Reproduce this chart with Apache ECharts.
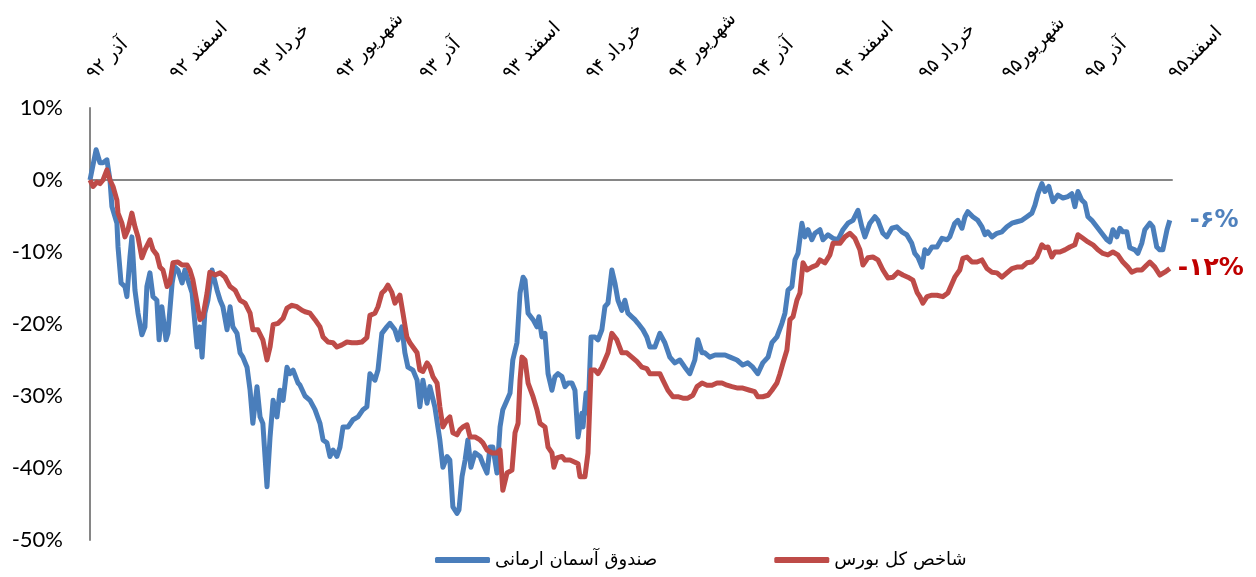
<!DOCTYPE html>
<html>
<head>
<meta charset="utf-8">
<script src="https://cdn.jsdelivr.net/npm/echarts@6/dist/echarts.min.js"></script>
<style>
html,body{margin:0;padding:0;background:#fff;}
#chart{width:1256px;height:577px;}
</style>
</head>
<body>
<div id="chart"></div>
<script>
// Tick labels (Persian months, every 3 months)
const monthLabels = ['آذر ۹۲','اسفند ۹۲','خرداد ۹۳','شهریور ۹۳','آذر ۹۳','اسفند ۹۳','خرداد ۹۴','شهریور ۹۴','آذر ۹۴','اسفند ۹۴','خرداد ۹۵','شهریور۹۵','آذر ۹۵','اسفند۹۵'];
const seriesNames = ['صندوق آسمان ارمانی','شاخص کل بورس'];
const endLabels = ['-۶%','-۱۲%'];

// Fund (blue): time in months since آذر ۹۲, value in %
const fundT = [0,0.11,0.22,0.36,0.47,0.61,0.72,0.79,0.97,1.01,1.12,1.26,1.33,1.44,1.51,1.62,1.73,1.87,1.98,2.05,2.16,2.27,2.41,2.49,2.59,2.74,2.81,2.96,3.06,3.17,3.32,3.42,3.53,3.68,3.86,3.96,4.04,4.14,4.25,4.40,4.58,4.69,4.79,4.94,5.05,5.15,5.30,5.41,5.51,5.66,5.77,5.87,6.02,6.13,6.23,6.38,6.49,6.60,6.74,6.85,6.96,7.10,7.21,7.32,7.50,7.57,7.75,7.93,8.11,8.29,8.40,8.54,8.65,8.76,8.90,9.01,9.12,9.30,9.48,9.66,9.84,9.98,10.09,10.27,10.38,10.52,10.70,10.81,10.99,11.10,11.24,11.35,11.46,11.64,11.79,11.89,12.00,12.15,12.25,12.43,12.61,12.72,12.87,12.97,13.08,13.23,13.30,13.41,13.52,13.62,13.73,13.88,14.06,14.16,14.31,14.42,14.52,14.67,14.78,14.88,15.03,15.14,15.24,15.39,15.50,15.61,15.68,15.79,15.97,16.11,16.18,16.29,16.40,16.51,16.65,16.76,16.87,17.01,17.12,17.23,17.37,17.48,17.59,17.73,17.77,17.88,17.95,18.06,18.20,18.31,18.45,18.56,18.67,18.81,18.92,19.03,19.17,19.28,19.39,19.53,19.64,19.75,19.93,20.07,20.18,20.36,20.54,20.72,20.90,21.08,21.26,21.44,21.62,21.80,21.91,22.06,22.16,22.34,22.53,22.71,22.89,23.07,23.32,23.53,23.71,23.89,24.07,24.25,24.44,24.58,24.76,24.94,25.05,25.16,25.30,25.41,25.52,25.66,25.77,25.88,26.02,26.13,26.31,26.42,26.60,26.78,26.96,27.14,27.32,27.50,27.68,27.82,27.93,28.11,28.29,28.40,28.58,28.72,28.90,29.08,29.26,29.44,29.62,29.73,29.84,29.99,30.09,30.20,30.35,30.53,30.71,30.89,30.99,31.17,31.28,31.43,31.54,31.64,31.82,32.00,32.15,32.26,32.36,32.51,32.69,32.87,33.05,33.23,33.41,33.59,33.77,33.95,34.06,34.17,34.31,34.42,34.56,34.71,34.89,35.07,35.25,35.39,35.50,35.61,35.75,35.86,35.97,36.11,36.29,36.47,36.65,36.76,36.87,37.01,37.12,37.23,37.37,37.48,37.66,37.77,37.91,38.02,38.20,38.31,38.45,38.56,38.67,38.82,38.92];
const fundV = [0,2.1,4.2,2.4,2.4,2.8,0,-3.7,-6,-9.3,-14.3,-14.8,-16.2,-10.7,-7.9,-15.3,-18.5,-21.5,-20.4,-14.8,-12.9,-16.2,-16.7,-22.2,-17.6,-22.2,-21.3,-14.3,-12.1,-12.5,-14.3,-12.5,-13.9,-15.7,-23.2,-20.4,-24.6,-18.5,-16.7,-12.5,-15.3,-16.7,-17.6,-20.8,-17.6,-20.4,-21.3,-24,-24.6,-26,-29.2,-33.8,-28.7,-32.9,-33.8,-42.6,-35.7,-30.6,-32.9,-29.2,-30.6,-26,-26.9,-26.4,-28.2,-28.5,-30,-30.6,-31.9,-33.8,-36.1,-36.5,-38.4,-37.5,-38.4,-37.1,-34.3,-34.3,-33.3,-32.9,-31.9,-31.5,-26.9,-27.8,-26.4,-21.3,-20.4,-19.9,-20.8,-22.2,-20.4,-24,-26,-26.4,-27.8,-31.5,-27.8,-31,-28.7,-31.5,-36.1,-39.9,-38.4,-38.9,-45.4,-46.3,-45.8,-41.2,-38.9,-36.1,-39.9,-37.9,-38.4,-39.4,-40.7,-37.1,-37.1,-40.7,-34.3,-31.9,-30.6,-29.6,-25,-22.6,-15.7,-13.5,-13.9,-18.5,-19.4,-20.4,-19,-21.8,-21.3,-26.9,-29.2,-27.3,-26.9,-27.3,-28.7,-28.2,-28.2,-29.2,-35.7,-32.4,-34.3,-29.6,-32.4,-21.8,-21.8,-22.2,-20.8,-17.6,-17.1,-12.5,-14.3,-16.7,-18.1,-16.7,-18.5,-19,-19.4,-19.9,-20.8,-21.8,-23.2,-23.2,-21.3,-22.6,-24.6,-25.4,-25,-26,-26.9,-25,-22.2,-24,-24,-24.6,-24.3,-24.3,-24.3,-24.6,-25,-25.7,-25.4,-26,-26.9,-25.4,-24.6,-22.6,-21.8,-19.9,-18.5,-15.3,-14.8,-11.1,-10.2,-6,-7.9,-6.9,-8.3,-7.4,-6.9,-8.3,-7.6,-8.1,-8.3,-6.9,-6,-5.6,-4.2,-6.5,-7.9,-6,-5.1,-5.6,-7.4,-7.9,-6.7,-6.5,-7.2,-7.6,-8.8,-10.2,-10.7,-12.1,-9.7,-10.2,-9.3,-9.3,-8.1,-8.3,-7.9,-6,-5.6,-6.7,-5.1,-4.4,-5.1,-5.6,-6.5,-7.6,-7.2,-7.9,-7.4,-7.2,-6.5,-6,-5.8,-5.6,-5.1,-4.6,-3.5,-1.9,-0.5,-1.6,-0.9,-3,-2.1,-2.5,-2.3,-1.9,-3.7,-1.6,-2.8,-3.2,-5.1,-5.6,-6.5,-7.4,-8.3,-8.6,-6.9,-7.9,-6.7,-7.2,-7.2,-9.4,-9.7,-10.2,-8.8,-6.9,-6,-6.5,-9.3,-9.7,-9.7,-6.9,-5.6];

// Index (red)
const indexT = [0,0.11,0.25,0.36,0.47,0.61,0.72,0.83,0.97,1.01,1.15,1.26,1.37,1.51,1.62,1.73,1.87,1.98,2.16,2.27,2.41,2.52,2.63,2.78,2.88,2.99,3.17,3.32,3.50,3.60,3.71,3.86,3.96,4.07,4.22,4.32,4.51,4.69,4.87,5.05,5.23,5.41,5.59,5.77,5.87,6.05,6.23,6.38,6.49,6.60,6.78,6.96,7.10,7.28,7.46,7.64,7.75,7.93,8.11,8.29,8.40,8.58,8.76,8.90,9.08,9.26,9.44,9.62,9.80,9.98,10.09,10.27,10.38,10.52,10.63,10.74,10.88,10.99,11.17,11.28,11.42,11.53,11.64,11.79,11.89,12.00,12.15,12.25,12.36,12.51,12.61,12.72,12.87,12.97,13.08,13.23,13.33,13.44,13.59,13.70,13.88,14.06,14.16,14.31,14.49,14.67,14.78,14.88,15.03,15.21,15.32,15.43,15.50,15.57,15.68,15.79,15.97,16.11,16.22,16.40,16.51,16.65,16.72,16.83,17.01,17.12,17.30,17.48,17.59,17.66,17.84,17.95,18.06,18.20,18.31,18.45,18.56,18.67,18.81,18.99,19.17,19.35,19.53,19.71,19.89,20.07,20.18,20.36,20.54,20.65,20.83,21.01,21.19,21.37,21.55,21.73,21.88,22.06,22.24,22.42,22.60,22.78,22.96,23.14,23.35,23.53,23.78,23.96,24.07,24.25,24.44,24.58,24.76,24.87,24.98,25.12,25.23,25.34,25.48,25.59,25.70,25.84,26.02,26.20,26.31,26.49,26.67,26.78,27.03,27.21,27.39,27.57,27.75,27.86,28.04,28.22,28.40,28.58,28.76,28.94,29.12,29.30,29.48,29.66,29.81,29.91,30.02,30.17,30.35,30.53,30.74,30.92,30.99,31.17,31.35,31.46,31.61,31.79,31.97,32.15,32.33,32.51,32.69,32.87,33.05,33.23,33.41,33.59,33.77,33.95,34.13,34.31,34.42,34.53,34.67,34.78,34.96,35.14,35.32,35.50,35.61,35.79,35.97,36.15,36.33,36.51,36.69,36.87,37.05,37.23,37.41,37.55,37.73,37.91,38.09,38.20,38.38,38.56,38.74,38.92];
const indexV = [0,-0.9,-0.3,-0.5,0,1.4,0,-0.9,-2.8,-4.6,-6,-7.9,-6.9,-4.6,-6.5,-7.9,-10.8,-9.7,-8.3,-9.7,-10.4,-12.1,-12.5,-14.8,-14.3,-11.5,-11.4,-11.8,-11.8,-12.5,-13.9,-17.1,-19.4,-19,-15.7,-12.8,-13.2,-12.9,-13.5,-14.8,-15.3,-16.7,-17.1,-18.5,-20.8,-20.8,-22.2,-25,-23.2,-20.1,-19.9,-19.2,-17.8,-17.4,-17.6,-18.1,-18.3,-18.5,-19.4,-20.4,-21.8,-22.5,-22.6,-23.2,-22.9,-22.5,-22.6,-22.6,-22.5,-21.9,-18.8,-18.5,-17.6,-15.7,-15.3,-14.6,-15.6,-17.1,-16,-18.5,-21.8,-22.6,-23.2,-24,-26.4,-26.6,-25.4,-26,-27.3,-28.2,-31.5,-34.3,-33.3,-32.9,-35.1,-35.4,-34.7,-34.3,-34,-35.7,-35.7,-36.1,-36.5,-37.5,-37.9,-37.9,-37.5,-43.1,-40.7,-40.3,-35.1,-33.8,-27.8,-24.6,-25,-28.2,-30.1,-31.9,-33.8,-34.3,-37.1,-37.9,-39.9,-38.6,-38.4,-38.9,-38.9,-39.2,-39.4,-41.2,-41.2,-37.9,-26.4,-26.4,-26.9,-26,-25,-24,-21.3,-22.2,-24,-24,-24.6,-25.2,-26,-26.2,-26.9,-26.9,-26.9,-27.8,-29.2,-30.1,-30.1,-30.3,-30.3,-29.9,-28.7,-28.2,-28.5,-28.5,-28.2,-28.2,-28.5,-28.7,-28.9,-28.9,-29.2,-29.4,-30.1,-30.1,-29.9,-29.2,-28.2,-26.9,-25.4,-23.6,-19.4,-19,-16.7,-15.7,-11.5,-12.5,-12.1,-11.8,-11.1,-11.5,-10.4,-8.8,-8.8,-7.9,-7.4,-8.1,-9.7,-11.8,-10.8,-10.7,-11.1,-12.5,-13.6,-13.5,-12.8,-13.2,-13.5,-13.9,-15.6,-16.2,-17.1,-16.2,-16,-16,-16.2,-15.7,-15.6,-13.5,-12.5,-10.9,-10.7,-11.4,-11.4,-11.1,-12.3,-12.8,-12.9,-13.5,-12.9,-12.3,-12.1,-12.1,-11.5,-11.4,-10.7,-9,-9.4,-9.3,-10.7,-10,-10,-9.7,-9.3,-9,-7.6,-8.1,-8.6,-9,-9.7,-10.2,-10.4,-10,-10.4,-11.4,-12.1,-12.8,-12.5,-12.5,-11.8,-11.4,-12.1,-13.2,-12.8,-12.3];

const fundData = fundT.map((t, i) => [t, fundV[i]]);
const indexData = indexT.map((t, i) => [t, indexV[i]]);

const chart = echarts.init(document.getElementById('chart'));
chart.setOption({
  animation: false,
  backgroundColor: '#ffffff',
  grid: {left: 90, right: 84, top: 108, bottom: 37, containLabel: false},
  xAxis: [
    {
      type: 'value', min: 0, max: 39, position: 'bottom',
      axisLine: {show: true, onZero: true, lineStyle: {color: '#868686', width: 2}},
      axisTick: {show: false}, axisLabel: {show: false}, splitLine: {show: false}
    },
    {
      type: 'category', data: monthLabels, boundaryGap: false, position: 'top',
      axisLine: {show: false}, axisTick: {show: false}, splitLine: {show: false},
      axisLabel: {interval: 0, rotate: -45, margin: 31, color: '#000', fontSize: 19, fontFamily: 'DejaVu Sans'}
    }
  ],
  yAxis: {
    type: 'value', min: -50, max: 10, interval: 10,
    axisLine: {show: true, lineStyle: {color: '#868686', width: 2}},
    axisTick: {show: false}, splitLine: {show: false},
    axisLabel: {formatter: '{value}%', color: '#000', fontSize: 22, fontFamily: 'Lato', margin: 27}
  },
  legend: {
    left: 430, top: 546, itemWidth: 55, itemHeight: 6, itemGap: 117,
    icon: 'roundRect',
    textStyle: {fontSize: 18, color: '#000', fontFamily: 'DejaVu Sans'},
    data: seriesNames
  },
  series: [
    {
      name: seriesNames[0], type: 'line', xAxisIndex: 0, data: fundData,
      showSymbol: false, symbol: 'none',
      lineStyle: {color: '#4a7ebb', width: 5, join: 'round'},
      itemStyle: {color: '#4a7ebb'},
      endLabel: {show: true, formatter: () => endLabels[0], distance: 20, color: '#4f81bd', fontSize: 24, fontWeight: 'bold', fontFamily: 'DejaVu Sans'}
    },
    {
      name: seriesNames[1], type: 'line', xAxisIndex: 0, data: indexData,
      showSymbol: false, symbol: 'none',
      lineStyle: {color: '#be4b48', width: 5, join: 'round'},
      itemStyle: {color: '#be4b48'},
      endLabel: {show: true, formatter: () => endLabels[1], distance: 8, color: '#c00000', fontSize: 25, fontWeight: 'bold', fontFamily: 'DejaVu Sans'}
    }
  ]
});
</script>
</body>
</html>
